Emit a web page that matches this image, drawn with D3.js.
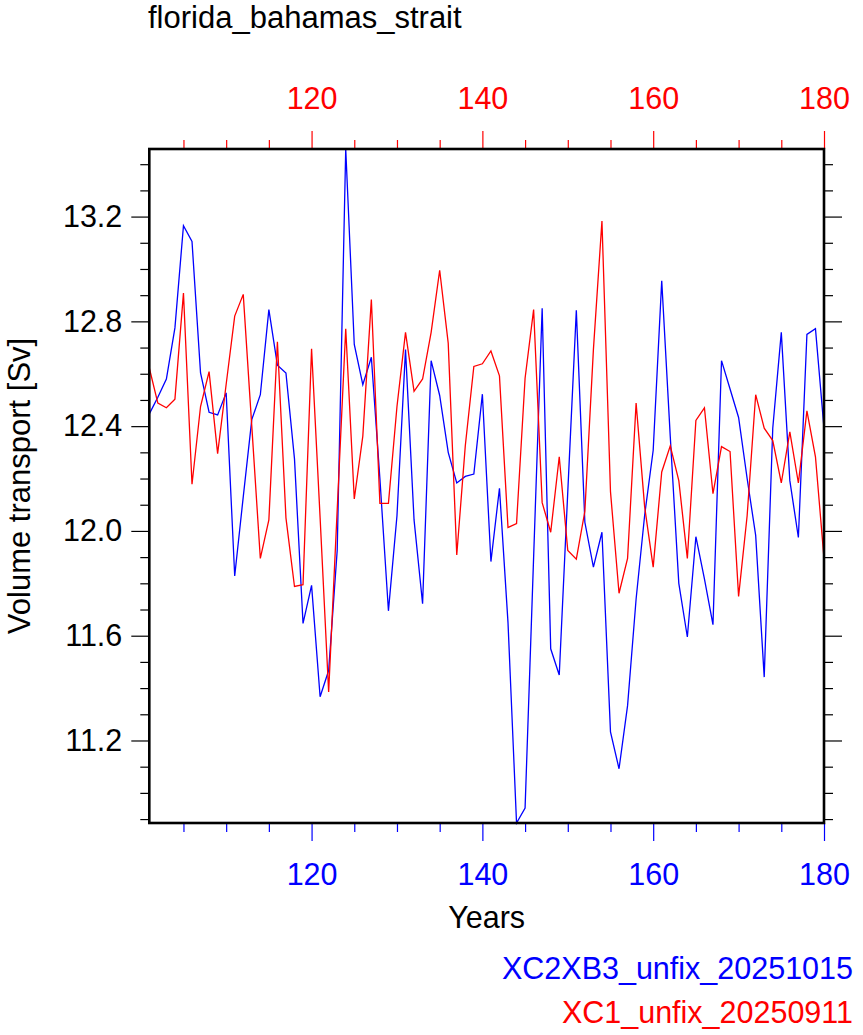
<!DOCTYPE html>
<html><head><meta charset="utf-8">
<script src="https://cdn.jsdelivr.net/npm/d3@7/dist/d3.min.js"></script>
<style>body{margin:0;background:#fff}svg{display:block}text{font-family:"Liberation Sans",Arial,Helvetica,sans-serif}</style>
</head><body><svg id="c" width="863" height="1035"></svg>
<script>
const years = d3.range(101, 181);
const blueName = "XC2XB3_unfix_20251015";
const redName = "XC1_unfix_20250911";
const blueValues = [12.447,12.51,12.58,12.775,13.165,13.105,12.603,12.453,12.443,12.527,
11.828,12.13,12.425,12.52,12.845,12.633,12.603,12.275,11.647,11.792,
11.367,11.467,11.925,13.458,12.712,12.558,12.663,12.2,11.695,12.058,
12.692,12.042,11.722,12.65,12.517,12.3,12.183,12.208,12.217,12.522,
11.883,12.163,11.65,10.885,10.942,11.9,12.85,11.55,11.45,12.15,
12.842,12.033,11.862,11.995,11.233,11.092,11.333,11.74,12.06,12.308,
12.955,12.36,11.8,11.595,11.978,11.817,11.642,12.65,12.542,12.433,
12.2,11.983,11.442,12.392,12.758,12.192,11.975,12.75,12.772,12.392];
const redValues = [12.622,12.488,12.47,12.503,12.908,12.178,12.475,12.608,12.295,12.56,
12.82,12.903,12.4,11.895,12.042,12.722,12.05,11.788,11.795,12.695,
12.05,11.385,12.08,12.772,12.122,12.362,12.883,12.105,12.105,12.475,
12.758,12.533,12.58,12.758,12.995,12.717,11.908,12.325,12.628,12.638,
12.687,12.592,12.013,12.028,12.583,12.845,12.108,11.995,12.283,11.925,
11.892,12.075,12.692,13.183,12.15,11.762,11.895,12.488,12.092,11.862,
12.225,12.325,12.192,11.895,12.422,12.47,12.142,12.322,12.303,11.75,
12.058,12.52,12.392,12.345,12.183,12.378,12.183,12.458,12.283,11.895];
const xMajor = [120,140,160,180];
const xMinor = [105,110,115,125,130,135,145,150,155,165,170,175];
const yMajor = [11.2,11.6,12.0,12.4,12.8,13.2];
const yMinor = d3.range(109,135).map(d=>d/10).filter(v=>!yMajor.some(m=>Math.abs(m-v)<1e-6));
const title = "florida_bahamas_strait";
const xTitle = "Years";
const yTitle = "Volume transport [Sv]";

const L=149.3,R=824,T=149,B=823;
const svg=d3.select("#c");
const x=d3.scaleLinear().domain(d3.extent(years)).range([L,R]);
const y=d3.scaleLinear().domain(d3.extent(blueValues.concat(redValues))).range([B,T]);
const FS=30.5;

function xaxis(gen,pos,color,tickVals,size,labels){
  const g=svg.append("g").attr("transform",`translate(0,${pos})`)
    .call(gen(x).tickValues(tickVals).tickSize(size).tickSizeOuter(0).tickPadding(labels?22:0).tickFormat(labels?d3.format("d"):()=>""));
  g.select(".domain").remove();
  g.selectAll("line").attr("stroke",color).attr("stroke-width",1.2);
  g.selectAll("text").attr("fill",color).attr("font-size",FS).attr("font-family",'"Liberation Sans",Arial,sans-serif');
}
xaxis(d3.axisBottom,B,"#0000ff",xMinor,9,false);
xaxis(d3.axisBottom,B,"#0000ff",xMajor,18,true);
xaxis(d3.axisTop,T,"#ff0000",xMinor,9,false);
xaxis(d3.axisTop,T,"#ff0000",xMajor,18,true);

function yaxis(gen,pos,tickVals,size,labels){
  const g=svg.append("g").attr("transform",`translate(${pos},0)`)
    .call(gen(y).tickValues(tickVals).tickSize(size).tickSizeOuter(0).tickPadding(labels?9:0).tickFormat(labels?d3.format(".1f"):()=>""));
  g.select(".domain").remove();
  g.selectAll("line").attr("stroke","#000").attr("stroke-width",1.2);
  g.selectAll("text").attr("fill","#000").attr("font-size",FS).attr("font-family",'"Liberation Sans",Arial,sans-serif');
}
yaxis(d3.axisLeft,L,yMinor,9,false);
yaxis(d3.axisLeft,L,yMajor,18,true);
yaxis(d3.axisRight,R,yMinor,9,false);
yaxis(d3.axisRight,R,yMajor,18,false);

const line=d3.line().x((d,i)=>x(years[i])).y(d=>y(d));
svg.append("path").datum(blueValues).attr("d",line).attr("fill","none").attr("stroke","#0000ff").attr("stroke-width",1.3);
svg.append("path").datum(redValues).attr("d",line).attr("fill","none").attr("stroke","#ff0000").attr("stroke-width",1.3);

svg.append("rect").attr("x",L).attr("y",T).attr("width",R-L).attr("height",B-T)
  .attr("fill","none").attr("stroke","#000").attr("stroke-width",2.6);

svg.append("text").attr("x",148).attr("y",28).attr("font-size",31).text(title);
svg.append("text").attr("x",(L+R)/2).attr("y",928).attr("text-anchor","middle").attr("font-size",FS).text(xTitle);
svg.append("text").attr("transform",`translate(30,${(T+B)/2}) rotate(-90)`).attr("text-anchor","middle").attr("font-size",31).text(yTitle);
svg.append("text").attr("x",853).attr("y",979).attr("text-anchor","end").attr("font-size",FS).attr("fill","#0000ff").text(blueName);
svg.append("text").attr("x",853).attr("y",1023).attr("text-anchor","end").attr("font-size",FS).attr("fill","#ff0000").text(redName);
</script></body></html>
